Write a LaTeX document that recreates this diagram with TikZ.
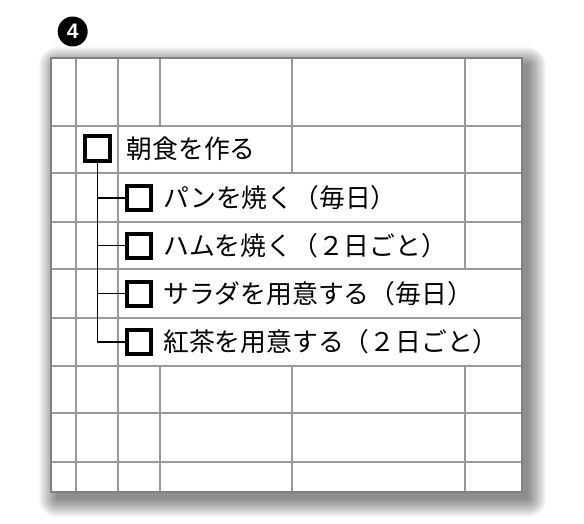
\documentclass[tikz,border=0pt]{standalone}
\usepackage{fontspec}
\newfontfamily\jpfont{Noto Sans CJK JP}
\setsansfont{Liberation Sans}
\begin{document}
\begin{tikzpicture}[x=1pt,y=-1pt,
  gridline/.style={draw=black!40,line width=1.2pt},
  frameline/.style={draw=black!50,line width=1.4pt},
  chk/.style={draw=black,line width=4pt,minimum size=24pt,inner sep=0pt,fill=white},
  mainchk/.style={chk,minimum size=25pt},
  item/.style={font=\jpfont\fontsize{25.8}{26}\selectfont,inner sep=0pt,anchor=base west},
  tree/.style={draw=black,line width=1.5pt}]
\useasboundingbox (0,0) rectangle (584,524);
\fill[white] (0,0) rectangle (584,524);
% shadow
\foreach \r in {18,17,...,0}{
  \fill[black,opacity=0.028,rounded corners=\r pt] (51+6-\r,58+7-\r) rectangle (522+6+\r,492+7+\r);
}
% table background
\fill[white] (51,58) rectangle (522,492);
% horizontal lines
\foreach \y in {126,173,222,269,318,366,413,462}{
  \draw[gridline] (51,\y) -- (522,\y);
}
% vertical lines
\draw[gridline] (76,58) -- (76,492);
\draw[gridline] (118,58) -- (118,492);
\draw[gridline] (160,58) -- (160,126);
\draw[gridline] (160,366) -- (160,492);
\draw[gridline] (292,58) -- (292,173);
\draw[gridline] (292,366) -- (292,492);
\draw[gridline] (465,58) -- (465,269);
\draw[gridline] (465,366) -- (465,492);
\draw[frameline] (51,58) rectangle (522,492);
% number badge
\node[circle,fill=black,minimum size=30pt,inner sep=0pt,text=white,font=\sffamily\bfseries\fontsize{21}{21}\selectfont] (num) at (72.7,31.5) {4};
% checkboxes
\node[mainchk] (m) at (97.5,149) {};
\node[chk] (s1) at (139,198) {};
\node[chk] (s2) at (139,245.5) {};
\node[chk] (s3) at (139,293.5) {};
\node[chk] (s4) at (139,342) {};
% texts
\node[item] (t0) at (126.5,158.5) {朝食を作る};
\node[item] (t1) at (163,207.5) {パンを焼く（毎日）};
\node[item] (t2) at (163,255) {ハムを焼く（２日ごと）};
\node[item] (t3) at (163,303) {サラダを用意する（毎日）};
\node[item] (t4) at (163,351.5) {紅茶を用意する（２日ごと）};
% tree connectors
\draw[tree] (m.south) -- (m.south |- s4.west) -- (s4.west);
\draw[tree] (m.south |- s1.west) -- (s1.west);
\draw[tree] (m.south |- s2.west) -- (s2.west);
\draw[tree] (m.south |- s3.west) -- (s3.west);
\end{tikzpicture}
\end{document}
